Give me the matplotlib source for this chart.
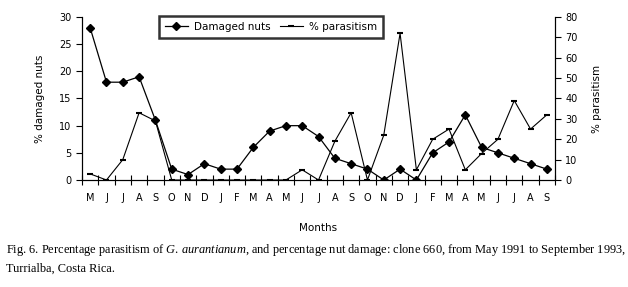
import matplotlib.pyplot as plt
import numpy as np

months = ["M", "J", "J", "A", "S", "O", "N", "D", "J", "F", "M", "A", "M", "J",
          "J", "A", "S", "O", "N", "D", "J", "F", "M", "A", "M", "J", "J", "A", "S"]
damaged = [28, 18, 18, 19, 11, 2, 1, 3, 2, 2, 6, 9, 10, 10,
           8, 4, 3, 2, 0, 2, 0, 5, 7, 12, 6, 5, 4, 3, 2]
parasitism = [3, 0, 10, 33, 29, 0, 0, 0, 0, 0, 0, 0, 0, 5,
              0, 19, 33, 0, 22, 72, 5, 20, 25, 5, 13, 20, 39, 25, 32]

plt.rcParams["mathtext.fontset"] = "custom"
plt.rcParams["mathtext.rm"] = "Liberation Serif"
plt.rcParams["mathtext.it"] = "Liberation Serif:italic"

x = np.arange(len(months))
fs = 7

fig = plt.figure(figsize=(6.28, 2.87), dpi=100)
ax = fig.add_axes([0.1306, 0.3728, 0.7532, 0.568])
ax2 = ax.twinx()

l1, = ax.plot(x, damaged, color="black", lw=0.9, marker="D", ms=4.3,
              label="Damaged nuts")
l2, = ax2.plot(x, parasitism, color="black", lw=0.8, marker="_", ms=5,
               mew=1.5, label="% parasitism")

ax.set_xlim(-0.5, len(months) - 0.5)
ax.set_ylim(0, 30)
ax2.set_ylim(0, 80)
ax.set_yticks(range(0, 31, 5))
ax2.set_yticks(range(0, 81, 10))

ax.set_xticks(np.arange(-0.5, len(months), 1))
ax.set_xticklabels([])
ax.set_xticks(x, minor=True)
ax.set_xticklabels(months, minor=True)
ax.tick_params(axis="x", which="major", direction="inout", length=7, width=0.8)
ax.tick_params(axis="x", which="minor", length=0, pad=9, labelsize=fs)
ax.tick_params(axis="y", direction="out", length=4, width=0.8, labelsize=fs)
ax2.tick_params(axis="y", direction="out", length=4, width=0.8, labelsize=fs)

for a in (ax, ax2):
    a.spines["top"].set_visible(False)
    for s in a.spines.values():
        s.set_linewidth(0.8)

ax.set_ylabel("% damaged nuts", fontsize=fs + 0.5, labelpad=10)
ax2.set_ylabel("% parasitism", fontsize=fs + 0.5, labelpad=10)
ax.set_xlabel("Months", fontsize=fs + 0.5, labelpad=15)

leg = fig.legend([l1, l2], ["Damaged nuts", "% parasitism"], ncol=2,
                 loc="upper left", bbox_to_anchor=(0.245, 0.962),
                 fontsize=fs + 0.5, frameon=True, fancybox=False,
                 handlelength=2.2, handletextpad=0.6, columnspacing=0.9,
                 borderpad=0.55)
leg.get_frame().set_edgecolor("black")
leg.get_frame().set_linewidth(1.8)

fig.text(0.01, 0.12,
         "Fig. 6. Percentage parasitism of $\\mathit{G.\\,aurantianum}$, and percentage nut "
         "damage: clone 660, from May 1991 to September 1993,",
         fontsize=8.9, family="Liberation Serif")
fig.text(0.01, 0.052, "Turrialba, Costa Rica.", fontsize=8.9,
         family="Liberation Serif")

plt.savefig("out.png", dpi=100)
